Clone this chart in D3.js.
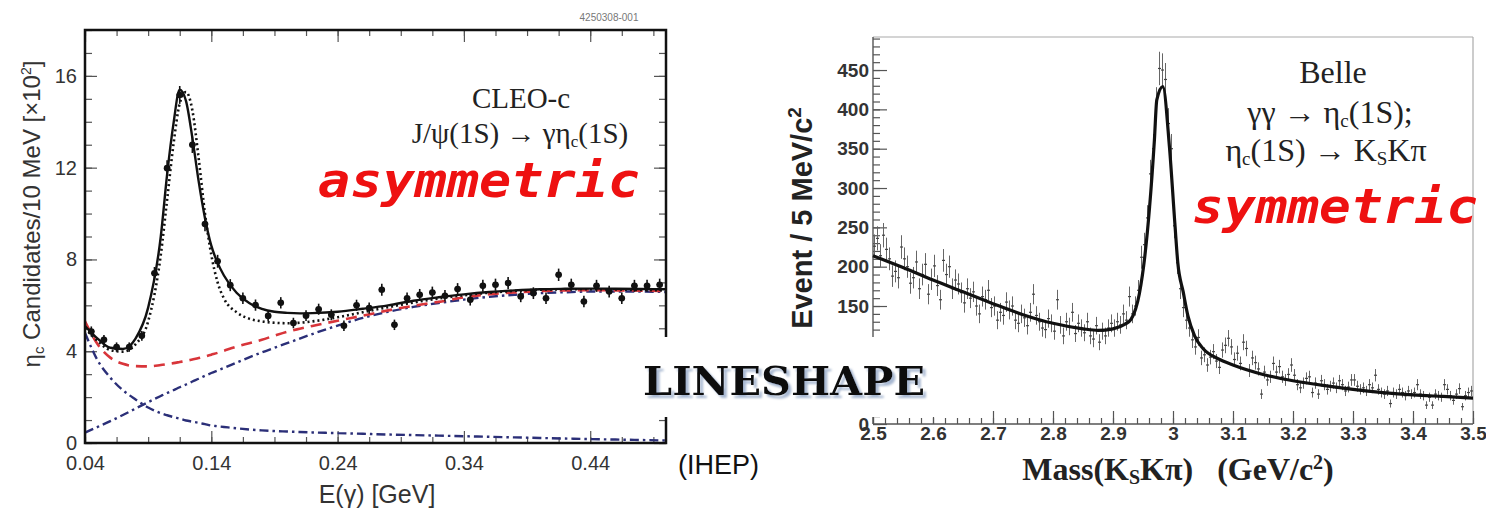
<!DOCTYPE html>
<html><head><meta charset="utf-8">
<script src="https://cdn.jsdelivr.net/npm/d3@7"></script>
<style>body{margin:0;background:#fff}svg{display:block}</style>
</head><body><svg id="c" width="1486" height="515"></svg>
<script>
// ================= LEFT PANEL: CLEO-c  J/psi -> gamma eta_c =================
const cleoBinE = [0.045,0.055,0.065,0.075,0.085,0.095,0.105,0.115,0.125,0.135,0.145,0.155,0.165,0.175,0.185,0.195,0.205,0.215,0.225,0.235,0.245,0.255,0.265,0.275,0.285,0.295,0.305,0.315,0.325,0.335,0.345,0.355,0.365,0.375,0.385,0.395,0.405,0.415,0.425,0.435,0.445,0.455,0.465,0.475,0.485,0.495];
const cleoCounts = [4.86,4.5,4.18,4.18,4.67,7.4,11.98,15.17,13.0,9.54,7.92,6.88,6.31,6.01,5.54,6.11,5.23,5.55,5.83,5.59,5.11,6.0,5.88,6.68,5.15,6.31,6.46,6.56,6.42,6.71,6.24,6.85,6.9,6.97,6.39,6.53,6.31,7.33,6.9,6.17,6.85,6.6,6.31,6.85,6.85,6.9];
const cleoCurveE = [0.04,0.05,0.06,0.07,0.08,0.09,0.10,0.105,0.11,0.115,0.12,0.125,0.13,0.135,0.14,0.145,0.15,0.16,0.17,0.18,0.19,0.20,0.21,0.22,0.24,0.26,0.28,0.30,0.32,0.34,0.36,0.38,0.40,0.42,0.44,0.46,0.48,0.50];
const cleoFitAsym = [5.1,4.55,4.15,4.1,4.55,5.9,9.0,11.7,13.9,15.4,14.9,13.3,11.4,9.8,8.6,7.85,7.3,6.55,6.1,5.85,5.72,5.67,5.65,5.66,5.72,5.85,6.0,6.2,6.35,6.48,6.58,6.65,6.7,6.72,6.73,6.72,6.71,6.7];
const cleoFitSym = [5.0,4.45,4.05,3.98,4.3,5.3,8.2,10.6,13.0,14.8,15.3,14.5,12.4,10.0,8.2,7.0,6.3,5.7,5.42,5.3,5.24,5.22,5.24,5.3,5.48,5.7,5.92,6.12,6.3,6.44,6.55,6.63,6.68,6.7,6.7,6.69,6.67,6.65];
const cleoBkgTotal = [5.3,4.3,3.72,3.45,3.35,3.34,3.4,3.44,3.48,3.53,3.58,3.64,3.7,3.77,3.85,3.93,4.02,4.2,4.35,4.5,4.68,4.85,4.98,5.1,5.33,5.55,5.78,5.98,6.15,6.35,6.48,6.56,6.62,6.65,6.66,6.65,6.64,6.62];
const cleoBkgRising = [0.45,0.7,0.95,1.22,1.5,1.78,2.05,2.18,2.3,2.43,2.55,2.68,2.8,2.93,3.05,3.16,3.27,3.5,3.73,3.95,4.15,4.35,4.55,4.75,5.12,5.45,5.72,5.93,6.1,6.25,6.37,6.46,6.53,6.57,6.6,6.6,6.6,6.58];
const cleoBkgFalling = [4.8,3.6,2.85,2.3,1.9,1.55,1.3,1.21,1.13,1.06,0.98,0.93,0.88,0.82,0.76,0.73,0.7,0.64,0.59,0.55,0.52,0.5,0.48,0.46,0.43,0.4,0.37,0.345,0.32,0.295,0.27,0.245,0.22,0.195,0.17,0.15,0.13,0.11];
const cleoXTicks = [0.04,0.14,0.24,0.34,0.44];
const cleoYTicks = [0,4,8,12,16];

// ================= RIGHT PANEL: Belle  gamma gamma -> eta_c -> KsK pi =================
const belleMass = d3.range(200).map(i => 2.5025 + 0.005 * i); // bin centres of the 5 MeV histogram
const belleCounts = [
 226,236,214,240,222,210,188,194,186,225,
 210,200,179,186,206,172,190,203,165,184,
 201,176,158,208,190,200,172,183,178,167,
 154,172,160,168,150,140,162,158,170,148,
 150,132,142,138,155,145,150,132,128,140,
 135,125,142,165,138,130,122,120,134,128,
 118,158,126,112,130,124,142,115,128,122,
 116,130,112,108,125,104,118,112,122,128,
 122,130,126,140,132,162,140,150,170,212,
 228,262,318,350,408,452,450,438,382,350,
 252,205,172,148,132,122,107,98,110,84,
 88,75,85,92,80,72,94,100,109,98,
 82,90,77,104,96,68,84,78,70,38,
 66,56,60,77,66,73,60,56,63,75,
 62,50,46,52,58,60,40,52,38,55,
 50,44,48,52,46,55,50,42,47,56,
 56,48,44,46,42,50,46,62,44,40,
 38,42,26,40,38,44,40,36,42,38,
 40,50,38,36,24,34,24,38,36,34,
 50,44,36,30,38,45,22,36,40,42];
const belleCurveM = [2.5,2.55,2.6,2.65,2.7,2.75,2.8,2.85,2.875,2.9,2.92,2.93,2.944,2.953,2.961,2.969,2.973,2.983,2.994,3.003,3.008,3.017,3.025,3.036,3.05,3.075,3.1,3.15,3.2,3.25,3.3,3.35,3.4,3.45,3.5];
const belleFit = [214,199,183,168,153,139,128,121,119,121,127,133,166,213,276,361,412,429,353,256,205,168,137,112,96,83,75,63,55,49,44,40,37,35,33];
const belleXTicks = [2.5,2.6,2.7,2.8,2.9,3.0,3.1,3.2,3.3,3.4,3.5];
const belleYTicks = [0,50,100,150,200,250,300,350,400,450];
const belleHiddenYLabels = [50,100]; // covered by the LINESHAPE banner in the original

const svg = d3.select("#c");
const defs = svg.append("defs");
const sh = defs.append("filter").attr("id","shadow").attr("x","-5%").attr("y","-20%").attr("width","115%").attr("height","160%");
sh.append("feDropShadow").attr("dx",3).attr("dy",3).attr("stdDeviation",1).attr("flood-color","#9fb0cc").attr("flood-opacity",0.9);
svg.append("rect").attr("width",1486).attr("height",515).attr("fill","#fff");
const SANS = "'Liberation Sans', Arial, Helvetica, sans-serif";
const SERIF = "'Liberation Serif', 'Times New Roman', serif";

// ---------- LEFT ----------
const xL = d3.scaleLinear().domain([0.04, 0.5]).range([85, 666]);
const yL = d3.scaleLinear().domain([0, 18]).range([443, 30]);
const L = svg.append("g");
defs.append("clipPath").attr("id","clipL").append("rect")
  .attr("x",85).attr("y",30).attr("width",581).attr("height",413);

function minorAxis(g, axis) { g.call(axis); g.select(".domain").remove(); }
const minX = d3.range(0.04, 0.5001, 0.025);
const minY = d3.range(0, 18.001, 1);
L.append("g").attr("transform","translate(0,443)").call(g=>minorAxis(g,d3.axisBottom(xL).tickValues(minX).tickSize(-6).tickFormat("")));
L.append("g").attr("transform","translate(0,30)").call(g=>minorAxis(g,d3.axisTop(xL).tickValues(minX).tickSize(-6).tickFormat("")));
L.append("g").attr("transform","translate(85,0)").call(g=>minorAxis(g,d3.axisLeft(yL).tickValues(minY).tickSize(-7).tickFormat("")));
L.append("g").attr("transform","translate(666,0)").call(g=>minorAxis(g,d3.axisRight(yL).tickValues(minY).tickSize(-7).tickFormat("")));
const axLb = L.append("g").attr("transform","translate(0,443)")
  .call(g=>minorAxis(g,d3.axisBottom(xL).tickValues(cleoXTicks).tickSize(-12).tickPadding(13).tickFormat(d3.format(".2f"))));
const axLl = L.append("g").attr("transform","translate(85,0)")
  .call(g=>minorAxis(g,d3.axisLeft(yL).tickValues(cleoYTicks).tickSize(-12).tickPadding(8).tickFormat(d3.format("d"))));
L.append("g").attr("transform","translate(0,30)").call(g=>minorAxis(g,d3.axisTop(xL).tickValues(cleoXTicks).tickSize(-12).tickFormat("")));
L.append("g").attr("transform","translate(666,0)").call(g=>minorAxis(g,d3.axisRight(yL).tickValues(cleoYTicks).tickSize(-12).tickFormat("")));
L.selectAll(".tick line").attr("stroke","#555").attr("stroke-width",1.2);
L.selectAll(".tick text").filter(function(){return this.textContent==="";}).remove();
[axLb, axLl].forEach(a=>a.selectAll("text").attr("font-family",SANS).attr("font-size",20).attr("fill","#333"));

const lineL = arr => d3.line().x((d,i)=>xL(cleoCurveE[i])).y(d=>yL(d)).curve(d3.curveMonotoneX)(arr);
const CL = L.append("g").attr("clip-path","url(#clipL)");
CL.append("path").attr("d",lineL(cleoBkgFalling)).attr("fill","none").attr("stroke","#2b2f78").attr("stroke-width",2.4).attr("stroke-dasharray","9,4,2.5,4");
CL.append("path").attr("d",lineL(cleoBkgRising)).attr("fill","none").attr("stroke","#2b2f78").attr("stroke-width",2.4).attr("stroke-dasharray","9,4,2.5,4");
CL.append("path").attr("d",lineL(cleoBkgTotal)).attr("fill","none").attr("stroke","#d8353a").attr("stroke-width",2.6).attr("stroke-dasharray","11,7");
CL.append("path").attr("d",lineL(cleoFitSym)).attr("fill","none").attr("stroke","#111").attr("stroke-width",2.6).attr("stroke-dasharray","2,3");
CL.append("path").attr("d",lineL(cleoFitAsym)).attr("fill","none").attr("stroke","#111").attr("stroke-width",2.4);
const ptsL = CL.append("g");
cleoBinE.forEach((e,i)=>{
  const v = cleoCounts[i], err = Math.sqrt(v*100)/100;
  ptsL.append("line").attr("x1",xL(e)).attr("x2",xL(e)).attr("y1",yL(v-err)).attr("y2",yL(v+err)).attr("stroke","#111").attr("stroke-width",1.6);
  ptsL.append("line").attr("x1",xL(e-0.0025)).attr("x2",xL(e+0.0025)).attr("y1",yL(v)).attr("y2",yL(v)).attr("stroke","#111").attr("stroke-width",1.4);
  ptsL.append("circle").attr("cx",xL(e)).attr("cy",yL(v)).attr("r",3.3).attr("fill","#111");
});
L.append("rect").attr("x",85).attr("y",30).attr("width",581).attr("height",413).attr("fill","none").attr("stroke","#111").attr("stroke-width",2.5);

L.append("text").attr("x",609).attr("y",21).attr("text-anchor","middle").attr("font-family",SANS).attr("font-size",10).attr("fill","#777").text("4250308-001");
L.append("text").attr("x",521).attr("y",108).attr("text-anchor","middle").attr("font-family",SERIF).attr("font-size",29).attr("fill","#222").text("CLEO-c");
const t2 = L.append("text").attr("x",520).attr("y",143).attr("text-anchor","middle").attr("font-family",SERIF).attr("font-size",29).attr("fill","#222");
t2.append("tspan").text("J/ψ(1S) → γη");
t2.append("tspan").attr("font-size",17).attr("dy",4).text("c");
t2.append("tspan").attr("dy",-4).text("(1S)");
L.append("text").attr("x",377).attr("y",503).attr("text-anchor","middle").attr("font-family",SANS).attr("font-size",25).attr("fill","#333").text("E(γ) [GeV]");
const yt = L.append("text").attr("transform","translate(40,214) rotate(-90)").attr("text-anchor","middle").attr("font-family",SANS).attr("font-size",24).attr("fill","#333");
yt.append("tspan").text("η");
yt.append("tspan").attr("font-size",15).attr("dy",4).text("c");
yt.append("tspan").attr("dy",-4).text(" Candidates/10 MeV [×10");
yt.append("tspan").attr("font-size",14).attr("dy",-9).text("2");
yt.append("tspan").attr("dy",9).text("]");

// ---------- RIGHT ----------
const xR = d3.scaleLinear().domain([2.5, 3.5]).range([873, 1473]);
const yR = d3.scaleLinear().domain([0, 492]).range([424, 37]);
const R = svg.append("g");
R.append("line").attr("x1",873).attr("x2",1473).attr("y1",37).attr("y2",37).attr("stroke","#aaa").attr("stroke-width",1.2);
R.append("line").attr("x1",1473).attr("x2",1473).attr("y1",37).attr("y2",424).attr("stroke","#aaa").attr("stroke-width",1.2);
R.append("g").attr("transform","translate(0,424)").call(g=>minorAxis(g,d3.axisBottom(xR).tickValues(d3.range(2.5,3.5001,0.02)).tickSize(-6).tickFormat("")));
R.append("g").attr("transform","translate(873,0)").call(g=>minorAxis(g,d3.axisLeft(yR).tickValues(d3.range(0,491,10)).tickSize(-7).tickFormat("")));
const axRb = R.append("g").attr("transform","translate(0,424)")
  .call(g=>minorAxis(g,d3.axisBottom(xR).tickValues(belleXTicks).tickSize(-13).tickPadding(2).tickFormat(d=>d===3?"3":d3.format(".1f")(d))));
const axRl = R.append("g").attr("transform","translate(873,0)")
  .call(g=>minorAxis(g,d3.axisLeft(yR).tickValues(belleYTicks).tickSize(-14).tickPadding(4).tickFormat(d=>belleHiddenYLabels.includes(d)?"":d3.format("d")(d))));
R.selectAll(".tick line").attr("stroke","#555").attr("stroke-width",1.2);
R.selectAll(".tick text").filter(function(){return this.textContent==="";}).remove();
[axRb, axRl].forEach(a=>a.selectAll("text").attr("font-family",SANS).attr("font-weight","bold").attr("font-size",19).attr("fill","#333"));
R.append("line").attr("x1",873).attr("x2",1473).attr("y1",424).attr("y2",424).attr("stroke","#555").attr("stroke-width",1.4);
R.append("line").attr("x1",873).attr("x2",873).attr("y1",37).attr("y2",424).attr("stroke","#555").attr("stroke-width",1.4);
const ptsR = R.append("g");
belleMass.forEach((m,i)=>{
  const v = belleCounts[i], err = Math.sqrt(v);
  ptsR.append("line").attr("x1",xR(m)).attr("x2",xR(m)).attr("y1",yR(v-err)).attr("y2",yR(v+err)).attr("stroke","#666").attr("stroke-width",1);
  ptsR.append("line").attr("x1",xR(m-0.0025)).attr("x2",xR(m+0.0025)).attr("y1",yR(v)).attr("y2",yR(v)).attr("stroke","#444").attr("stroke-width",1.2);
});
R.append("path").attr("d",d3.line().x((d,i)=>xR(belleCurveM[i])).y(d=>yR(d)).curve(d3.curveMonotoneX)(belleFit))
  .attr("fill","none").attr("stroke","#111").attr("stroke-width",3.2);
R.append("text").attr("x",1333).attr("y",83).attr("text-anchor","middle").attr("font-family",SERIF).attr("font-size",32).attr("fill","#222").text("Belle");
const b2 = R.append("text").attr("x",1330).attr("y",123).attr("text-anchor","middle").attr("font-family",SERIF).attr("font-size",32).attr("fill","#222");
b2.append("tspan").text("γγ → η"); b2.append("tspan").attr("font-size",19).attr("dy",4).text("c"); b2.append("tspan").attr("dy",-4).text("(1S);");
const b3 = R.append("text").attr("x",1326).attr("y",161).attr("text-anchor","middle").attr("font-family",SERIF).attr("font-size",32).attr("fill","#222");
b3.append("tspan").text("η"); b3.append("tspan").attr("font-size",19).attr("dy",4).text("c"); b3.append("tspan").attr("dy",-4).text("(1S) → K");
b3.append("tspan").attr("font-size",19).attr("dy",4).text("S"); b3.append("tspan").attr("dy",-4).text("Kπ");
const xt = R.append("text").attr("x",1178).attr("y",480).attr("text-anchor","middle").attr("font-family",SERIF).attr("font-weight","bold").attr("font-size",32).attr("fill","#222");
xt.append("tspan").text("Mass(K"); xt.append("tspan").attr("font-size",20).attr("dy",4).text("S"); xt.append("tspan").attr("dy",-4).text("Kπ)\u00a0\u00a0\u00a0(GeV/c");
xt.append("tspan").attr("font-size",20).attr("dy",-11).text("2"); xt.append("tspan").attr("dy",11).text(")");

// ---------- overlay ----------
svg.append("rect").attr("x",630).attr("y",337).attr("width",318).attr("height",80).attr("fill","#fff");
const ry = svg.append("text").attr("transform","translate(812,218) rotate(-90)").attr("text-anchor","middle").attr("font-family",SANS).attr("font-weight","bold").attr("font-size",29).attr("fill","#222");
ry.append("tspan").text("Event / 5 MeV/c"); ry.append("tspan").attr("font-size",19).attr("dy",-11).text("2");
svg.append("text").attr("x",643).attr("y",395).attr("font-family","'DejaVu Serif',serif").attr("font-weight","bold").attr("font-size",40).attr("fill","#111").attr("filter","url(#shadow)").attr("textLength",282).attr("lengthAdjust","spacingAndGlyphs").text("LINESHAPE");
svg.append("text").attr("x",678).attr("y",474).attr("font-family",SANS).attr("font-size",27).attr("fill","#111").text("(IHEP)");
svg.append("text").attr("x",318).attr("y",197).attr("font-family","'DejaVu Sans Mono',monospace").attr("font-style","italic").attr("font-weight","bold").attr("font-size",48).attr("fill","#ee1111").attr("textLength",322).attr("lengthAdjust","spacingAndGlyphs").text("asymmetric");
svg.append("text").attr("x",1192).attr("y",223).attr("font-family","'DejaVu Sans Mono',monospace").attr("font-style","italic").attr("font-weight","bold").attr("font-size",48).attr("fill","#ee1111").attr("textLength",286).attr("lengthAdjust","spacingAndGlyphs").text("symmetric");
</script></body></html>
